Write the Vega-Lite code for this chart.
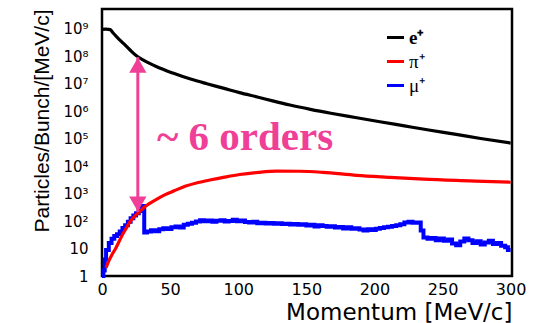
{
  "$schema": "https://vega.github.io/schema/vega-lite/v6.json",
  "width": 410,
  "height": 267,
  "autosize": {"type": "none"},
  "padding": {"left": 102, "top": 9, "right": 37, "bottom": 47},
  "background": "white",
  "config": {
    "view": {"stroke": "black", "strokeWidth": 2.5},
    "axis": {"grid": false, "domain": false, "tickColor": "black", "labelColor": "black", "titleColor": "black"}
  },
  "datasets": {
    "curves": [
      {"s": "e⁺", "p": 0, "n": 933000000},
      {"s": "e⁺", "p": 3, "n": 955000000},
      {"s": "e⁺", "p": 6, "n": 912000000},
      {"s": "e⁺", "p": 8, "n": 708000000},
      {"s": "e⁺", "p": 10.8, "n": 501000000},
      {"s": "e⁺", "p": 15.7, "n": 288000000},
      {"s": "e⁺", "p": 20.6, "n": 166000000},
      {"s": "e⁺", "p": 25.5, "n": 100000000},
      {"s": "e⁺", "p": 30.4, "n": 70800000},
      {"s": "e⁺", "p": 40.2, "n": 40700000},
      {"s": "e⁺", "p": 52, "n": 24000000},
      {"s": "e⁺", "p": 65, "n": 14500000},
      {"s": "e⁺", "p": 77, "n": 9800000},
      {"s": "e⁺", "p": 89, "n": 6800000},
      {"s": "e⁺", "p": 101, "n": 4680000},
      {"s": "e⁺", "p": 114, "n": 3240000},
      {"s": "e⁺", "p": 126, "n": 2290000},
      {"s": "e⁺", "p": 138, "n": 1650000},
      {"s": "e⁺", "p": 153, "n": 1150000},
      {"s": "e⁺", "p": 168, "n": 830000},
      {"s": "e⁺", "p": 186, "n": 580000},
      {"s": "e⁺", "p": 204, "n": 407000},
      {"s": "e⁺", "p": 222, "n": 288000},
      {"s": "e⁺", "p": 241, "n": 200000},
      {"s": "e⁺", "p": 260, "n": 141000},
      {"s": "e⁺", "p": 278, "n": 100000},
      {"s": "e⁺", "p": 300, "n": 68400},
      {"s": "π⁺", "p": 3, "n": 2.0},
      {"s": "π⁺", "p": 5, "n": 3.55},
      {"s": "π⁺", "p": 7, "n": 5.62},
      {"s": "π⁺", "p": 10, "n": 10},
      {"s": "π⁺", "p": 12, "n": 15.8},
      {"s": "π⁺", "p": 15, "n": 31.6},
      {"s": "π⁺", "p": 17, "n": 46.8},
      {"s": "π⁺", "p": 20, "n": 85.1},
      {"s": "π⁺", "p": 22, "n": 115},
      {"s": "π⁺", "p": 25, "n": 166},
      {"s": "π⁺", "p": 28, "n": 229},
      {"s": "π⁺", "p": 31, "n": 316},
      {"s": "π⁺", "p": 35, "n": 437},
      {"s": "π⁺", "p": 40, "n": 617},
      {"s": "π⁺", "p": 46, "n": 891},
      {"s": "π⁺", "p": 53, "n": 1259},
      {"s": "π⁺", "p": 61, "n": 1820},
      {"s": "π⁺", "p": 70, "n": 2460},
      {"s": "π⁺", "p": 80, "n": 3160},
      {"s": "π⁺", "p": 90, "n": 3940},
      {"s": "π⁺", "p": 101, "n": 4900},
      {"s": "π⁺", "p": 115, "n": 5900},
      {"s": "π⁺", "p": 128, "n": 6500},
      {"s": "π⁺", "p": 145, "n": 6450},
      {"s": "π⁺", "p": 162, "n": 5890},
      {"s": "π⁺", "p": 187, "n": 4570},
      {"s": "π⁺", "p": 210, "n": 3890},
      {"s": "π⁺", "p": 236, "n": 3310},
      {"s": "π⁺", "p": 270, "n": 2880},
      {"s": "π⁺", "p": 300, "n": 2570},
      {"s": "μ⁺", "p": 0, "n": 1.0},
      {"s": "μ⁺", "p": 1, "n": 1.58},
      {"s": "μ⁺", "p": 2, "n": 3.98},
      {"s": "μ⁺", "p": 3, "n": 8.9},
      {"s": "μ⁺", "p": 5, "n": 15.8},
      {"s": "μ⁺", "p": 7, "n": 22.4},
      {"s": "μ⁺", "p": 9, "n": 28.2},
      {"s": "μ⁺", "p": 11, "n": 33.1},
      {"s": "μ⁺", "p": 13, "n": 41.7},
      {"s": "μ⁺", "p": 15, "n": 56.2},
      {"s": "μ⁺", "p": 17, "n": 70.8},
      {"s": "μ⁺", "p": 19, "n": 93.3},
      {"s": "μ⁺", "p": 21, "n": 126},
      {"s": "μ⁺", "p": 23, "n": 158},
      {"s": "μ⁺", "p": 25, "n": 191},
      {"s": "μ⁺", "p": 27, "n": 229},
      {"s": "μ⁺", "p": 29, "n": 355},
      {"s": "μ⁺", "p": 31, "n": 38},
      {"s": "μ⁺", "p": 33, "n": 41.7},
      {"s": "μ⁺", "p": 36, "n": 45.7},
      {"s": "μ⁺", "p": 39, "n": 42.7},
      {"s": "μ⁺", "p": 42, "n": 50.1},
      {"s": "μ⁺", "p": 45, "n": 55},
      {"s": "μ⁺", "p": 48, "n": 51.3},
      {"s": "μ⁺", "p": 51, "n": 58.9},
      {"s": "μ⁺", "p": 54, "n": 63.1},
      {"s": "μ⁺", "p": 57, "n": 57.5},
      {"s": "μ⁺", "p": 60, "n": 72.4},
      {"s": "μ⁺", "p": 63, "n": 79.4},
      {"s": "μ⁺", "p": 66, "n": 87.1},
      {"s": "μ⁺", "p": 69, "n": 95.5},
      {"s": "μ⁺", "p": 72, "n": 107},
      {"s": "μ⁺", "p": 75, "n": 97.7},
      {"s": "μ⁺", "p": 78, "n": 105},
      {"s": "μ⁺", "p": 81, "n": 93.3},
      {"s": "μ⁺", "p": 84, "n": 102},
      {"s": "μ⁺", "p": 87, "n": 107},
      {"s": "μ⁺", "p": 90, "n": 95.5},
      {"s": "μ⁺", "p": 93, "n": 100},
      {"s": "μ⁺", "p": 96, "n": 110},
      {"s": "μ⁺", "p": 99, "n": 97.7},
      {"s": "μ⁺", "p": 102, "n": 105},
      {"s": "μ⁺", "p": 105, "n": 91.2},
      {"s": "μ⁺", "p": 108, "n": 89.1},
      {"s": "μ⁺", "p": 111, "n": 93.3},
      {"s": "μ⁺", "p": 114, "n": 83.2},
      {"s": "μ⁺", "p": 117, "n": 87.1},
      {"s": "μ⁺", "p": 120, "n": 81.3},
      {"s": "μ⁺", "p": 123, "n": 85.1},
      {"s": "μ⁺", "p": 126, "n": 79.4},
      {"s": "μ⁺", "p": 129, "n": 83.2},
      {"s": "μ⁺", "p": 132, "n": 77.6},
      {"s": "μ⁺", "p": 135, "n": 79.4},
      {"s": "μ⁺", "p": 138, "n": 74.1},
      {"s": "μ⁺", "p": 141, "n": 77.6},
      {"s": "μ⁺", "p": 144, "n": 72.4},
      {"s": "μ⁺", "p": 147, "n": 75.9},
      {"s": "μ⁺", "p": 150, "n": 69.2},
      {"s": "μ⁺", "p": 153, "n": 72.4},
      {"s": "μ⁺", "p": 156, "n": 63.1},
      {"s": "μ⁺", "p": 159, "n": 70.8},
      {"s": "μ⁺", "p": 162, "n": 66.1},
      {"s": "μ⁺", "p": 165, "n": 61.7},
      {"s": "μ⁺", "p": 168, "n": 64.6},
      {"s": "μ⁺", "p": 171, "n": 57.5},
      {"s": "μ⁺", "p": 174, "n": 60.3},
      {"s": "μ⁺", "p": 177, "n": 53.7},
      {"s": "μ⁺", "p": 180, "n": 58.9},
      {"s": "μ⁺", "p": 183, "n": 52.5},
      {"s": "μ⁺", "p": 186, "n": 55},
      {"s": "μ⁺", "p": 189, "n": 49},
      {"s": "μ⁺", "p": 192, "n": 44.7},
      {"s": "μ⁺", "p": 195, "n": 50.1},
      {"s": "μ⁺", "p": 198, "n": 46.8},
      {"s": "μ⁺", "p": 201, "n": 52.5},
      {"s": "μ⁺", "p": 204, "n": 56.2},
      {"s": "μ⁺", "p": 207, "n": 58.9},
      {"s": "μ⁺", "p": 210, "n": 61.7},
      {"s": "μ⁺", "p": 213, "n": 66.1},
      {"s": "μ⁺", "p": 216, "n": 70.8},
      {"s": "μ⁺", "p": 219, "n": 75.9},
      {"s": "μ⁺", "p": 222, "n": 89.1},
      {"s": "μ⁺", "p": 225, "n": 93.3},
      {"s": "μ⁺", "p": 228, "n": 87.1},
      {"s": "μ⁺", "p": 231, "n": 89.1},
      {"s": "μ⁺", "p": 234, "n": 44.7},
      {"s": "μ⁺", "p": 236, "n": 25.1},
      {"s": "μ⁺", "p": 239, "n": 22.4},
      {"s": "μ⁺", "p": 242, "n": 24},
      {"s": "μ⁺", "p": 245, "n": 20},
      {"s": "μ⁺", "p": 248, "n": 22.9},
      {"s": "μ⁺", "p": 251, "n": 19.1},
      {"s": "μ⁺", "p": 254, "n": 21.4},
      {"s": "μ⁺", "p": 257, "n": 15.1},
      {"s": "μ⁺", "p": 260, "n": 13.2},
      {"s": "μ⁺", "p": 263, "n": 17.8},
      {"s": "μ⁺", "p": 266, "n": 22.9},
      {"s": "μ⁺", "p": 269, "n": 20},
      {"s": "μ⁺", "p": 272, "n": 15.8},
      {"s": "μ⁺", "p": 275, "n": 18.2},
      {"s": "μ⁺", "p": 278, "n": 14.1},
      {"s": "μ⁺", "p": 281, "n": 16.6},
      {"s": "μ⁺", "p": 284, "n": 19.1},
      {"s": "μ⁺", "p": 287, "n": 14.5},
      {"s": "μ⁺", "p": 290, "n": 15.8},
      {"s": "μ⁺", "p": 293, "n": 12.6},
      {"s": "μ⁺", "p": 296, "n": 11.2},
      {"s": "μ⁺", "p": 298, "n": 8.9},
      {"s": "μ⁺", "p": 300, "n": 8.9}
    ],
    "arrow": [
      {"p": 26.3, "n": 91000000, "end": "top"},
      {"p": 26.3, "n": 214, "end": "bottom"}
    ],
    "note": [
      {"p": 40.4, "n": 38000, "t": "~ 6 orders"}
    ]
  },
  "encoding": {
    "x": {
      "field": "p", "type": "quantitative",
      "scale": {"domain": [0, 301], "nice": false, "zero": false},
      "axis": {
        "values": [0,10,20,30,40,50,60,70,80,90,100,110,120,130,140,150,160,170,180,190,200,210,220,230,240,250,260,270,280,290,300],
        "labelExpr": "datum.value % 50 == 0 ? datum.label : ''",
        "labelOverlap": false,
        "labelFlush": false,
        "tickSize": 0,
        "tickWidth": 1.5,
        "labelFont": "DejaVu Sans",
        "labelFontSize": 16,
        "labelPadding": 5,
        "title": "Momentum [MeV/c]",
        "titleFont": "DejaVu Sans",
        "titleFontSize": 23,
        "titleFontWeight": "normal",
        "titleAnchor": "end",
        "titlePadding": 4,
        "encode": {"ticks": {"update": {"y2": {"signal": "datum.value % 50 == 0 ? -7 : -4"}}}}
      }
    },
    "y": {
      "field": "n", "type": "quantitative",
      "scale": {"type": "log", "domain": [1, 5130000000], "nice": false},
      "axis": {
        "values": [1,2,3,4,5,6,7,8,9,10,20,30,40,50,60,70,80,90,100,200,300,400,500,600,700,800,900,1000,2000,3000,4000,5000,6000,7000,8000,9000,10000,20000,30000,40000,50000,60000,70000,80000,90000,100000,200000,300000,400000,500000,600000,700000,800000,900000,1000000,2000000,3000000,4000000,5000000,6000000,7000000,8000000,9000000,10000000,20000000,30000000,40000000,50000000,60000000,70000000,80000000,90000000,100000000,200000000,300000000,400000000,500000000,600000000,700000000,800000000,900000000,1000000000,2000000000,3000000000,4000000000,5000000000],
        "labelExpr": "abs(log(datum.value)/LN10 - round(log(datum.value)/LN10)) > 0.001 ? '' : (datum.value == 1 ? '1' : (datum.value == 10 ? '10' : '10' + ['⁰','¹','²','³','⁴','⁵','⁶','⁷','⁸','⁹'][round(log(datum.value)/LN10)]))",
        "labelOverlap": false,
        "labelFlush": false,
        "tickSize": 0,
        "tickWidth": 1.2,
        "labelFont": "DejaVu Sans",
        "labelFontSize": 15,
        "labelPadding": 14,
        "title": "Particles/Bunch/[MeV/c]",
        "titleFont": "Liberation Sans",
        "titleFontSize": 21,
        "titleFontWeight": "normal",
        "titleAnchor": "end",
        "titlePadding": 10,
        "encode": {"ticks": {"update": {"x2": {"signal": "abs(log(datum.value)/LN10 - round(log(datum.value)/LN10)) < 0.001 ? 7 : 4"}}}}
      }
    }
  },
  "layer": [
    {
      "data": {"name": "curves"},
      "transform": [{"filter": "datum.s == 'μ⁺'"}],
      "mark": {"type": "line", "interpolate": "step-after", "strokeWidth": 4, "strokeJoin": "miter"},
      "encoding": {
        "color": {
          "field": "s", "type": "nominal",
          "scale": {"domain": ["e⁺", "π⁺", "μ⁺"], "range": ["#000000", "#ff0000", "#0000ff"]},
          "legend": {
            "title": null, "orient": "none", "legendX": 283, "legendY": 18,
            "symbolType": "stroke", "symbolStrokeWidth": 3, "symbolSize": 290,
            "labelFont": "Liberation Serif", "labelFontSize": 19, "labelColor": "black",
            "labelOffset": 3, "rowPadding": 3,
            "encode": {"labels": {"update": {"fontWeight": {"signal": "datum.label == 'e⁺' ? 'bold' : 'normal'"}}}}
          }
        }
      }
    },
    {
      "data": {"name": "curves"},
      "transform": [{"filter": "datum.s != 'μ⁺'"}],
      "mark": {"type": "line", "interpolate": "monotone", "strokeWidth": 3.2},
      "encoding": {
        "color": {
          "field": "s", "type": "nominal",
          "scale": {"domain": ["e⁺", "π⁺", "μ⁺"], "range": ["#000000", "#ff0000", "#0000ff"]}
        }
      }
    },
    {
      "data": {"name": "arrow"},
      "mark": {"type": "line", "color": "#ef3f97", "strokeWidth": 3},
      "encoding": {}
    },
    {
      "data": {"name": "arrow"},
      "transform": [{"filter": "datum.end == 'top'"}],
      "mark": {"type": "point", "shape": "triangle-up", "filled": true, "opacity": 1, "color": "#ef3f97", "size": 300, "yOffset": 8},
      "encoding": {}
    },
    {
      "data": {"name": "arrow"},
      "transform": [{"filter": "datum.end == 'bottom'"}],
      "mark": {"type": "point", "shape": "triangle-down", "filled": true, "opacity": 1, "color": "#ef3f97", "size": 300, "yOffset": -8},
      "encoding": {}
    },
    {
      "data": {"name": "note"},
      "mark": {"type": "text", "align": "left", "baseline": "alphabetic", "font": "Liberation Serif", "fontWeight": "bold", "fontSize": 41, "color": "#ef3f97"},
      "encoding": {"text": {"field": "t"}}
    }
  ]
}
